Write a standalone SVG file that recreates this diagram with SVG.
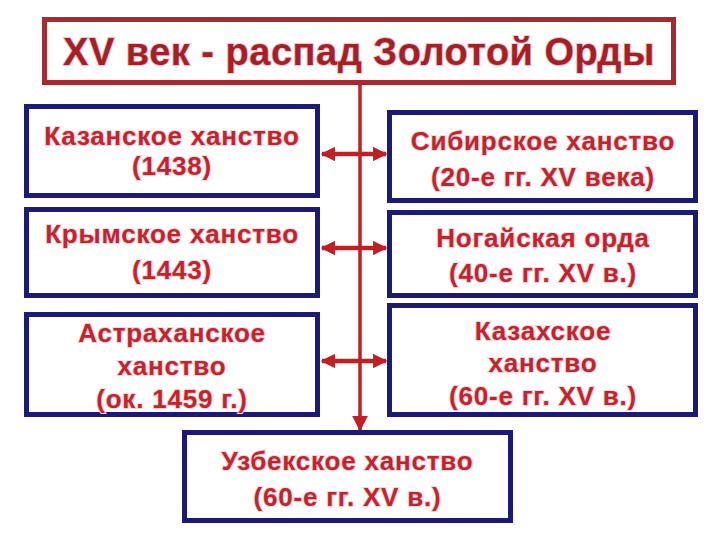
<svg xmlns="http://www.w3.org/2000/svg" width="720" height="540" viewBox="0 0 720 540">
<defs>
<marker id="ah" viewBox="0 0 10 10" refX="9" refY="5" markerWidth="3.2" markerHeight="3.2" orient="auto-start-reverse" markerUnits="strokeWidth">
<path d="M0,0 L10,5 L0,10 z" fill="#c01f24"/>
</marker>
<marker id="ahv" viewBox="0 0 10 10" refX="9" refY="5" markerWidth="4.5" markerHeight="4.5" orient="auto" markerUnits="strokeWidth">
<path d="M0,0 L10,5 L0,10 z" fill="#c01f24"/>
</marker>
</defs>
<style>
.title{fill:#fff;stroke:#a82a2e;stroke-width:5}
.box{fill:#fff;stroke:#1c1a74;stroke-width:5}
.tt{font-family:"Liberation Sans",Arial,sans-serif;font-weight:bold;font-size:38px;letter-spacing:0.5px;fill:#a51f28;text-anchor:middle;stroke:#f3c8cb;stroke-width:2;paint-order:stroke}
.t{font-family:"Liberation Sans",Arial,sans-serif;font-weight:bold;font-size:26px;letter-spacing:0.8px;fill:#c3232d;text-anchor:middle;stroke:#f8d2d5;stroke-width:2;paint-order:stroke}
.c{stroke:#c01f24;fill:none}
</style>
<rect width="720" height="540" fill="#fff"/>
<g id="connectors">
<line class="c" x1="360" y1="84" x2="360" y2="430" stroke-width="3.5" marker-end="url(#ahv)"/>
<line class="c" x1="322" y1="154" x2="386" y2="154" stroke-width="4.5" marker-start="url(#ah)" marker-end="url(#ah)"/>
<line class="c" x1="322" y1="248" x2="386" y2="248" stroke-width="4.5" marker-start="url(#ah)" marker-end="url(#ah)"/>
<line class="c" x1="322" y1="361" x2="386" y2="361" stroke-width="4.5" marker-start="url(#ah)" marker-end="url(#ah)"/>
</g>
<g id="title">
<rect class="title" x="44.5" y="19.5" width="629" height="63"/>
<text class="tt" x="359" y="65">XV век - распад Золотой Орды</text>
</g>
<g id="kazan">
<rect class="box" x="26.5" y="106.5" width="291" height="89"/>
<text class="t" x="172" y="145">Казанское ханство</text>
<text class="t" x="172" y="175">(1438)</text>
</g>
<g id="crimea">
<rect class="box" x="26.5" y="209.5" width="291" height="86"/>
<text class="t" x="172" y="243">Крымское ханство</text>
<text class="t" x="172" y="279">(1443)</text>
</g>
<g id="astrakhan">
<rect class="box" x="26.5" y="314.5" width="291" height="100"/>
<text class="t" x="172" y="342">Астраханское</text>
<text class="t" x="172" y="375">ханство</text>
<text class="t" x="172" y="408">(ок. 1459 г.)</text>
</g>
<g id="siberia">
<rect class="box" x="389.5" y="112.5" width="306" height="88"/>
<text class="t" x="543" y="150">Сибирское ханство</text>
<text class="t" x="543" y="186">(20-е гг. XV века)</text>
</g>
<g id="nogai">
<rect class="box" x="389.5" y="212.5" width="306" height="83"/>
<text class="t" x="543" y="247">Ногайская орда</text>
<text class="t" x="543" y="282">(40-е гг. XV в.)</text>
</g>
<g id="kazakh">
<rect class="box" x="389.5" y="305.5" width="306" height="109"/>
<text class="t" x="543" y="340">Казахское</text>
<text class="t" x="543" y="372">ханство</text>
<text class="t" x="543" y="405">(60-е гг. XV в.)</text>
</g>
<g id="uzbek">
<rect class="box" x="184.5" y="432.5" width="326" height="88"/>
<text class="t" x="347.5" y="470">Узбекское ханство</text>
<text class="t" x="347.5" y="506">(60-е гг. XV в.)</text>
</g>
</svg>
